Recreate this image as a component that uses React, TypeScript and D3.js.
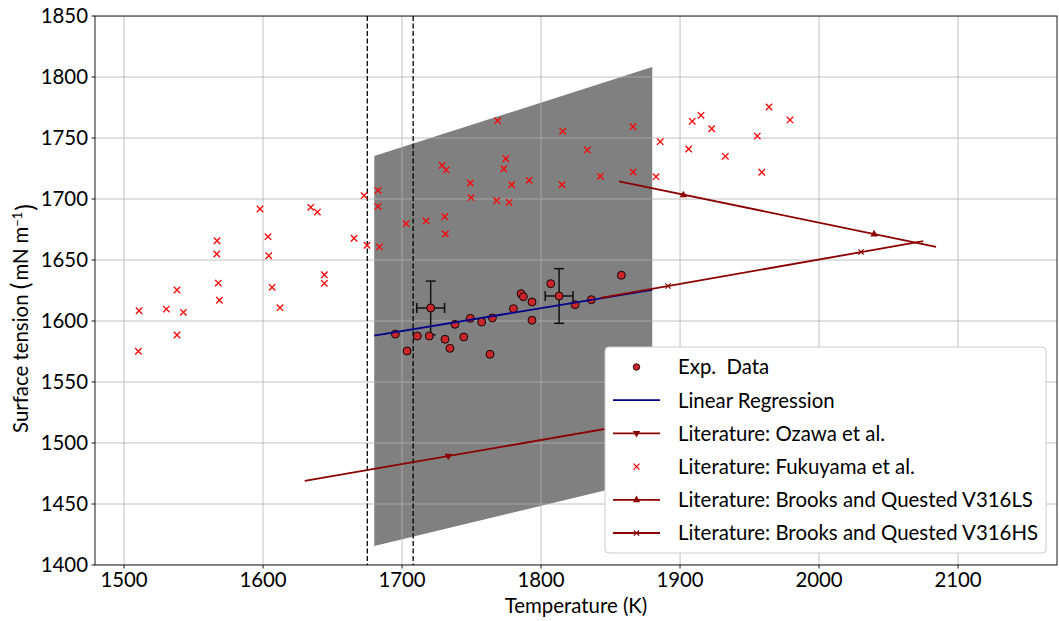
import React from "react";
import * as d3 from "d3";

// ---------- data ----------
const expData: [number, number][] = [
  [1695.2, 1589.3], [1703.6, 1575.4], [1711.0, 1587.7], [1719.6, 1587.7],
  [1720.6, 1610.7], [1730.9, 1585.0], [1734.5, 1577.6], [1738.1, 1597.3],
  [1744.4, 1586.9], [1749.1, 1602.2], [1757.3, 1599.2], [1763.3, 1572.7],
  [1765.0, 1602.5], [1780.1, 1610.1], [1785.6, 1622.4], [1787.3, 1619.9],
  [1793.5, 1615.6], [1793.5, 1600.6], [1807.0, 1630.6], [1813.0, 1620.5],
  [1824.5, 1613.4], [1836.2, 1617.5], [1857.8, 1637.5],
];
// points carrying error bars: [T, sigma, dT, dSigma]
const expErrors: [number, number, number, number][] = [
  [1720.6, 1610.7, 10, 22],
  [1813.0, 1620.5, 10, 22.4],
];
const regressionLine: [number, number][] = [
  [1680, 1588.0],
  [1880, 1625.6],
];
const ozawaLine: [number, number][] = [
  [1630, 1468.9],
  [2140, 1569.5],
];
const ozawaMarkers: [number, number][] = [[1733.3, 1489.3]];
const fukuyama: [number, number][] = [
  [1597.8, 1691.8], [1603.6, 1669.1], [1566.9, 1665.8], [1566.7, 1654.9],
  [1604.1, 1653.5], [1567.8, 1631.1], [1606.5, 1627.6], [1538.1, 1625.4],
  [1568.6, 1617.0], [1612.2, 1610.9], [1510.8, 1608.4], [1530.4, 1609.8],
  [1542.7, 1607.1], [1538.1, 1588.5], [1510.3, 1575.2],
  [1728.8, 1727.6], [1731.7, 1723.8], [1682.7, 1707.1], [1672.7, 1702.7],
  [1682.7, 1694.0], [1634.3, 1693.2], [1639.1, 1689.3], [1702.9, 1679.8],
  [1717.3, 1682.0], [1730.7, 1685.5], [1731.2, 1671.3], [1665.5, 1667.8],
  [1674.8, 1662.1], [1683.7, 1660.7], [1644.1, 1637.9], [1644.1, 1630.9],
  [1768.8, 1764.2], [1815.6, 1755.5], [1866.2, 1759.3], [1833.3, 1740.2],
  [1774.6, 1733.0], [1773.2, 1724.8], [1866.2, 1722.1], [1842.7, 1718.6],
  [1749.1, 1713.1], [1791.4, 1715.3], [1778.9, 1711.7], [1815.1, 1711.7],
  [1749.6, 1701.1], [1768.1, 1698.6], [1777.0, 1697.3],
  [1885.8, 1747.0], [1882.7, 1718.3], [1908.8, 1763.7], [1915.1, 1768.6],
  [1922.8, 1757.6], [1906.2, 1741.0], [1932.6, 1735.0], [1964.0, 1775.4],
  [1979.1, 1764.8], [1955.6, 1751.6], [1958.8, 1721.9],
];
const v316lsLine: [number, number][] = [
  [1856.1, 1714.5],
  [2084.2, 1660.8],
];
const v316lsMarkers: [number, number][] = [[1902.4, 1703.3], [2039.6, 1671.3]];
const v316hsLine: [number, number][] = [
  [1843, 1619.0],
  [2075, 1665.4],
];
const v316hsMarkers: [number, number][] = [[1891.4, 1628.7], [2030.2, 1656.6]];
// uncertainty band corners (T, sigma)
const band: [number, number][] = [
  [1680, 1735.2], [1880, 1808.2], [1880, 1470.4], [1680, 1415.6],
];
const phaseLines: number[] = [1675, 1708];
const xTicks: number[] = [1500, 1600, 1700, 1800, 1900, 2000, 2100];
const yTicks: number[] = [1400, 1450, 1500, 1550, 1600, 1650, 1700, 1750, 1800, 1850];
const legendLabels: string[] = [
  "Exp. Data",
  "Linear Regression",
  "Literature: Ozawa et al.",
  "Literature: Fukuyama et al.",
  "Literature: Brooks and Quested V316LS",
  "Literature: Brooks and Quested V316HS",
];

// ---------- layout ----------
const W = 1059, H = 621;
const L = 95, R = 1057, T = 16, B = 565;
const FONT = "Lato, 'Open Sans', sans-serif";
const FS = 20.4;
const DARKRED = "#8b0000";
const BLUE = "#00008b";
const EXPRED = "#c8262a";

const xMark = (s: number) => `M${-s},${-s}L${s},${s}M${-s},${s}L${s},${-s}`;
const triUp = "M0,-4.2L3.7,2.4L-3.7,2.4Z";
const triDown = "M0,4.2L3.7,-2.4L-3.7,-2.4Z";

export default function App() {
  const x = d3.scaleLinear().domain([1479.1, 2171.2]).range([L, R]);
  const y = d3.scaleLinear().domain([1400, 1850]).range([B, T]);
  const line = d3.line<[number, number]>().x(d => x(d[0])).y(d => y(d[1]));

  const legendX = 605, legendY = 347, legendW = 441, legendH = 206;
  const rowY = (i: number) => 367 + i * 33.2;
  const hx0 = 613, hx1 = 660, hxm = 636.5, tx = 678;

  return (
    <svg width={W} height={H} style={{ position: "fixed", left: 0, top: 0, background: "#fff" }}
      fontFamily={FONT}>
      <rect x={0} y={0} width={W} height={H} fill="#fff" />
      <defs>
        <clipPath id="plot"><rect x={L} y={T} width={R - L} height={B - T} /></clipPath>
      </defs>
      <g clipPath="url(#plot)">
        {/* band */}
        <path d={line(band)! + "Z"} fill="#808080" />
        {/* grid */}
        {xTicks.map(t => (
          <line key={"gx" + t} x1={x(t)} x2={x(t)} y1={T} y2={B} stroke="#b0b0b0" strokeWidth={0.8} />
        ))}
        {yTicks.map(t => (
          <line key={"gy" + t} x1={L} x2={R} y1={y(t)} y2={y(t)} stroke="#b0b0b0" strokeWidth={0.8} />
        ))}
        {/* phase lines */}
        {phaseLines.map(t => (
          <line key={"pl" + t} x1={x(t)} x2={x(t)} y1={T} y2={B} stroke="#000" strokeWidth={1.3}
            strokeDasharray="5,2.5" />
        ))}
        {/* error bars */}
        {expErrors.map((e, i) => {
          const cx = x(e[0]), cy = y(e[1]);
          const x0 = x(e[0] - e[2]), x1 = x(e[0] + e[2]);
          const y0 = y(e[1] - e[3]), y1 = y(e[1] + e[3]);
          return (
            <g key={"eb" + i} stroke="#111" strokeWidth={1.5}>
              <line x1={x0} x2={x1} y1={cy} y2={cy} />
              <line x1={cx} x2={cx} y1={y0} y2={y1} />
              <line x1={x0} x2={x0} y1={cy - 5} y2={cy + 5} />
              <line x1={x1} x2={x1} y1={cy - 5} y2={cy + 5} />
              <line x1={cx - 5} x2={cx + 5} y1={y0} y2={y0} />
              <line x1={cx - 5} x2={cx + 5} y1={y1} y2={y1} />
            </g>
          );
        })}
        {/* exp data */}
        {expData.map((d, i) => (
          <circle key={"ed" + i} cx={x(d[0])} cy={y(d[1])} r={4} fill={EXPRED} stroke="#000" strokeWidth={0.9} />
        ))}
        {/* regression */}
        <path d={line(regressionLine)!} fill="none" stroke={BLUE} strokeWidth={1.8} />
        {/* Ozawa */}
        <path d={line(ozawaLine)!} fill="none" stroke={DARKRED} strokeWidth={1.8} />
        {ozawaMarkers.map((d, i) => (
          <path key={"oz" + i} d={triDown} transform={`translate(${x(d[0])},${y(d[1])})`} fill={DARKRED} />
        ))}
        {/* Fukuyama */}
        {fukuyama.map((d, i) => (
          <path key={"fk" + i} d={xMark(3.2)} transform={`translate(${x(d[0])},${y(d[1])})`}
            stroke="#ff0000" strokeWidth={1.3} fill="none" />
        ))}
        {/* V316LS */}
        <path d={line(v316lsLine)!} fill="none" stroke={DARKRED} strokeWidth={1.8} />
        {v316lsMarkers.map((d, i) => (
          <path key={"ls" + i} d={triUp} transform={`translate(${x(d[0])},${y(d[1])})`} fill={DARKRED} />
        ))}
        {/* V316HS */}
        <path d={line(v316hsLine)!} fill="none" stroke={DARKRED} strokeWidth={1.8} />
        {v316hsMarkers.map((d, i) => (
          <path key={"hs" + i} d={xMark(2.6)} transform={`translate(${x(d[0])},${y(d[1])})`}
            stroke={DARKRED} strokeWidth={1.3} fill="none" />
        ))}
      </g>

      {/* spines */}
      <rect x={L} y={T} width={R - L} height={B - T} fill="none" stroke="#000" strokeWidth={0.9} />

      {/* ticks */}
      {xTicks.map(t => (
        <g key={"xt" + t}>
          <line x1={x(t)} x2={x(t)} y1={B} y2={B + 3.5} stroke="#000" strokeWidth={0.9} />
          <text x={x(t)} y={B + 7} dy="0.75em" textAnchor="middle" fontSize={FS} fill="#000">{t}</text>
        </g>
      ))}
      {yTicks.map(t => (
        <g key={"yt" + t}>
          <line x1={L - 3.5} x2={L} y1={y(t)} y2={y(t)} stroke="#000" strokeWidth={0.9} />
          <text x={L - 7} y={y(t)} dy="0.36em" textAnchor="end" fontSize={FS} fill="#000">{t}</text>
        </g>
      ))}

      {/* axis labels */}
      <text x={(L + R) / 2} y={606} dy="0.36em" textAnchor="middle" fontSize={FS} fill="#000">Temperature (K)</text>
      <text transform={`translate(21,${(T + B) / 2 + 28}) rotate(-90)`} dy="0.36em" textAnchor="middle" fontSize={FS} fill="#000">
        Surface tension <tspan fontSize={25} dy="1">(</tspan><tspan dy="-1" dx="2">mN</tspan><tspan dx="5">m</tspan><tspan dy="-0.5em" fontSize={13}>−1</tspan><tspan dy="0.5em" fontSize={25} dx="1">)</tspan>
      </text>

      {/* legend */}
      <rect x={legendX} y={legendY} width={legendW} height={legendH} rx={4} fill="#fff" stroke="#cccccc" strokeWidth={1} />
      {/* handles */}
      <circle cx={hxm} cy={rowY(0)} r={3.3} fill={EXPRED} stroke="#000" strokeWidth={0.8} />
      <line x1={hx0} x2={hx1} y1={rowY(1)} y2={rowY(1)} stroke={BLUE} strokeWidth={1.8} />
      <line x1={hx0} x2={hx1} y1={rowY(2)} y2={rowY(2)} stroke={DARKRED} strokeWidth={1.8} />
      <path d={triDown} transform={`translate(${hxm},${rowY(2)})`} fill={DARKRED} />
      <path d={xMark(3)} transform={`translate(${hxm},${rowY(3)})`} stroke="#ff0000" strokeWidth={1.3} fill="none" />
      <line x1={hx0} x2={hx1} y1={rowY(4)} y2={rowY(4)} stroke={DARKRED} strokeWidth={1.8} />
      <path d={triUp} transform={`translate(${hxm},${rowY(4)})`} fill={DARKRED} />
      <line x1={hx0} x2={hx1} y1={rowY(5)} y2={rowY(5)} stroke={DARKRED} strokeWidth={1.8} />
      <path d={xMark(2.6)} transform={`translate(${hxm},${rowY(5)})`} stroke={DARKRED} strokeWidth={1.3} fill="none" />
      {legendLabels.map((s, i) => (
        <text key={"lg" + i} x={tx} y={rowY(i)} dy="0.36em" fontSize={FS} fill="#000"
          wordSpacing={i === 0 ? 5 : 0}>{s}</text>
      ))}
    </svg>
  );
}
